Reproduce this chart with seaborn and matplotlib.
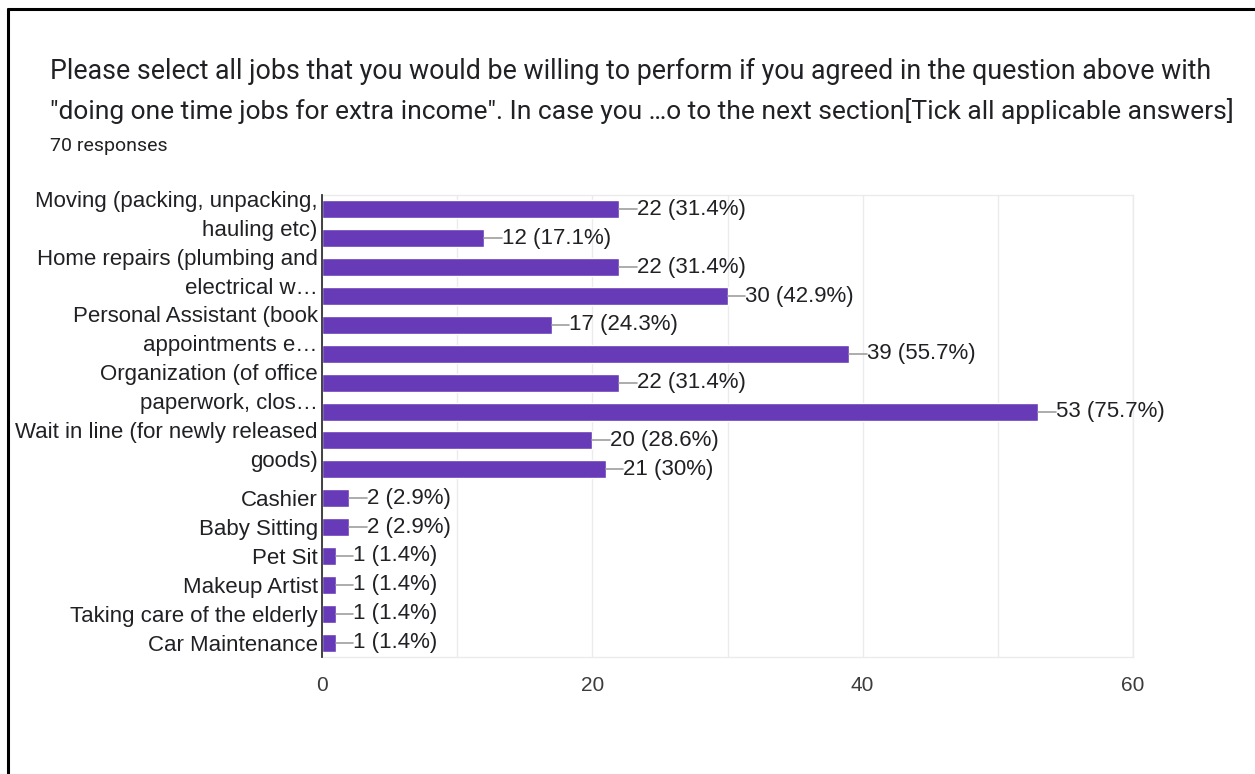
import matplotlib
matplotlib.use("Agg")
import matplotlib.pyplot as plt
from matplotlib.lines import Line2D
import seaborn as sns
import pandas as pd

# Survey answers (one bar per option; options whose names do not fit have no label)
tick_labels = [
    "Moving (packing, unpacking,\nhauling etc)",
    "",
    "Home repairs (plumbing and\nelectrical w…",
    "",
    "Personal Assistant (book\nappointments e…",
    "",
    "Organization (of office\npaperwork, clos…",
    "",
    "Wait in line (for newly released\ngoods)",
    "",
    "Cashier",
    "Baby Sitting",
    "Pet Sit",
    "Makeup Artist",
    "Taking care of the elderly",
    "Car Maintenance",
]
counts = [22, 12, 22, 30, 17, 39, 22, 53, 20, 21, 2, 2, 1, 1, 1, 1]
total_responses = 70
x_ticks = [0, 20, 40, 60]

title_line1 = "Please select all jobs that you would be willing to perform if you agreed in the question above with"
title_line2 = "\"doing one time jobs for extra income\". In case you …o to the next section[Tick all applicable answers]"
subtitle = f"{total_responses} responses"

BAR = "#673AB7"
TEXT = "#202124"
GRID = "#ebebeb"

sns.set_theme(style="white")
plt.rcParams["font.family"] = ["Liberation Sans", "DejaVu Sans"]

df = pd.DataFrame({"slot": list(range(len(counts))), "count": counts})

fig = plt.figure(figsize=(12.55, 7.74), dpi=100)
ax = fig.add_axes([322 / 1255, 1 - 657 / 774, (1133 - 322) / 1255, (657 - 195) / 774])

sns.barplot(data=df, x="count", y="slot", orient="h", color=BAR, saturation=1,
            width=0.62, ax=ax, order=list(range(len(counts))))

ax.set_xlim(0, 60)
ax.set_ylim(len(counts) - 0.5, -0.5)
ax.set_xticks(range(0, 61, 10), minor=False)
ax.set_xticklabels([str(v) if v in x_ticks else "" for v in range(0, 61, 10)])
ax.tick_params(axis="x", length=0, pad=14, labelsize=15, labelcolor="#3c3c3c")
ax.set_yticks(range(len(counts)))
ax.set_yticklabels(tick_labels, linespacing=1.5)
ax.tick_params(axis="y", length=0, pad=3, labelsize=16, labelcolor=TEXT)
ax.set_xlabel("")
ax.set_ylabel("")
ax.grid(axis="x", color=GRID, linewidth=1)
ax.set_axisbelow(True)
for side in ("top", "right", "bottom"):
    ax.spines[side].set_color(GRID)
    ax.spines[side].set_linewidth(1)
ax.spines["left"].set_color("#333333")
ax.spines["left"].set_linewidth(1.3)
ax.spines["left"].set_zorder(5)

# value annotations with a short leader line
for i, v in enumerate(counts):
    pct = round(v / total_responses * 100, 1)
    pct_txt = f"{pct:.1f}".rstrip("0").rstrip(".")
    ax.plot([v, v + 1.3], [i, i], color="#9e9e9e", linewidth=1.2, zorder=3)
    ax.text(v + 1.3, i, f"{v} ({pct_txt}%)", va="center", ha="left",
            fontsize=16, color=TEXT)

# title block
fig.text(50 / 1255, 1 - 71 / 774, title_line1, fontsize=19.3, color=TEXT,
         family=["Roboto", "DejaVu Sans"], va="center", ha="left")
fig.text(50 / 1255, 1 - 111 / 774, title_line2, fontsize=19.0, color=TEXT,
         family=["Roboto", "DejaVu Sans"], va="center", ha="left")
fig.text(50 / 1255, 1 - 146 / 774, subtitle, fontsize=14, color=TEXT,
         family=["Roboto", "DejaVu Sans"], va="center", ha="left")

# card border on the left and top edges
fig.add_artist(Line2D([8 / 1255, 8 / 1255], [0, 1 - 9 / 774], color="black",
                      linewidth=2.2, transform=fig.transFigure))
fig.add_artist(Line2D([8 / 1255, 1], [1 - 9 / 774, 1 - 9 / 774], color="black",
                      linewidth=2.2, transform=fig.transFigure))

fig.savefig("out.png", dpi=100, facecolor="white")
